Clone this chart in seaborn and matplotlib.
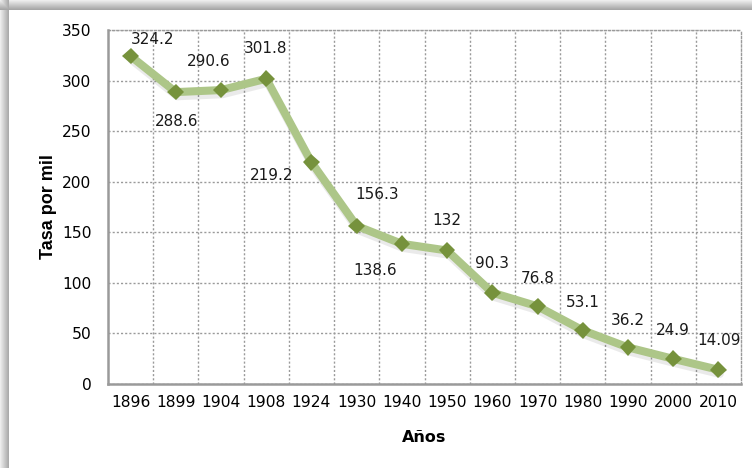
import numpy as np
import pandas as pd
import matplotlib
matplotlib.use("Agg")
import matplotlib.pyplot as plt
import matplotlib.patheffects as pe
from matplotlib.ticker import MultipleLocator, FixedLocator
import seaborn as sns

# tasa por mil, por año
anios = ["1896", "1899", "1904", "1908", "1924", "1930", "1940",
         "1950", "1960", "1970", "1980", "1990", "2000", "2010"]
tasas = [324.2, 288.6, 290.6, 301.8, 219.2, 156.3, 138.6,
         132, 90.3, 76.8, 53.1, 36.2, 24.9, 14.09]
etiquetas = ["324.2", "288.6", "290.6", "301.8", "219.2", "156.3", "138.6",
             "132", "90.3", "76.8", "53.1", "36.2", "24.9", "14.09"]

# donde va cada etiqueta respecto al punto (pixeles)
desplaz = [(22, 17), (1, -29), (-12, 29), (-1, 30), (-40, -13), (20, 31), (-27, -27),
           (0, 30), (0, 29), (0, 28), (0, 28), (0, 27), (0, 28), (1, 29)]

sns.set_style("white")
plt.rcParams['font.family'] = ['DejaVu Sans']

df = pd.DataFrame({"Años": anios, "Tasa": tasas})

fig = plt.figure(figsize=(7.52, 4.68), dpi=100)

# sombra del marco (arriba e izquierda)
H, W = 468, 752
yy, xx = np.mgrid[0:H, 0:W]
top = np.where(yy < 10, 0.93 - 0.28 * yy / 9, 1.0)
left = np.where(xx < 9, 0.93 - 0.26 * xx / 8, 1.0)
fondo = np.minimum(top, left)
bg = fig.add_axes([0, 0, 1, 1], zorder=-5)
bg.imshow(fondo, cmap="gray", vmin=0, vmax=1, aspect="auto", interpolation="bilinear")
bg.axis("off")

ax = fig.add_axes([108 / 752, 1 - 384 / 468, 633 / 752, 354 / 468])

sns.lineplot(data=df, x="Años", y="Tasa", ax=ax, sort=False,
             color="#ADC688", linewidth=5.8,
             marker="D", markersize=8.5, markerfacecolor="#76923C", markeredgewidth=0,
             path_effects=[pe.SimpleLineShadow(offset=(1, -3), shadow_color="#555555", alpha=0.12),
                           pe.Normal()])

for i in range(len(tasas)):
    ax.annotate(etiquetas[i], (i, tasas[i]), xytext=desplaz[i], textcoords="offset pixels",
                ha="center", va="center", fontsize=11, color="#1a1a1a")

ax.set_xlim(-0.5, len(anios) - 0.5)
ax.set_ylim(0, 350)
ax.yaxis.set_major_locator(MultipleLocator(50))
ax.xaxis.set_minor_locator(FixedLocator(np.arange(0.5, len(anios) - 1, 1)))

punteado = (0, (1.5, 1.5))
ax.grid(axis="y", which="major", color="#9a9a9a", linestyle=punteado, linewidth=1)
ax.grid(axis="x", which="minor", color="#9a9a9a", linestyle=punteado, linewidth=1)
ax.grid(axis="x", which="major", visible=False)

for s in ["top", "right"]:
    ax.spines[s].set_color("#9a9a9a")
    ax.spines[s].set_linestyle(punteado)
    ax.spines[s].set_linewidth(1)
for s in ["left", "bottom"]:
    ax.spines[s].set_color("#9a9a9a")
    ax.spines[s].set_linewidth(1.8)

ax.tick_params(axis="both", which="both", length=0, labelsize=11.2, colors="black")
ax.tick_params(axis="y", pad=12)
ax.tick_params(axis="x", pad=8)

ax.set_xlabel("Años", fontsize=11.5, fontweight="bold", color="black")
ax.set_ylabel("Tasa por mil", fontsize=13, fontweight="bold", family="Liberation Sans", color="black")
ax.xaxis.set_label_coords(0.5, -0.13)
ax.yaxis.set_label_coords(-0.08, 0.5)

plt.savefig("out.png", dpi=100)
